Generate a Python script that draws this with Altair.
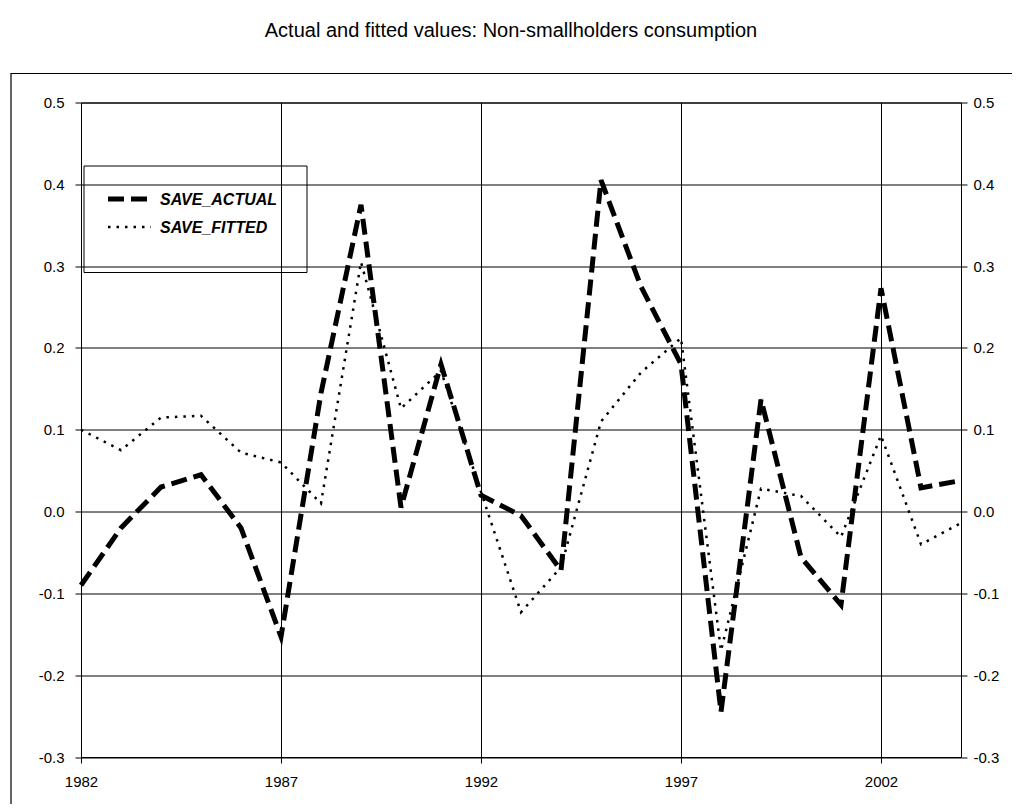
import altair as alt
import pandas as pd

TITLE = "Actual and fitted values: Non-smallholders consumption"
years = list(range(1982, 2005))
save_actual = [-0.09, -0.02, 0.03, 0.045, -0.02, -0.153, 0.145, 0.375, 0.005, 0.18,
               0.02, -0.005, -0.072, 0.405, 0.275, 0.18, -0.245, 0.137, -0.056, -0.114,
               0.273, 0.029, 0.038]
save_fitted = [0.10, 0.075, 0.115, 0.117, 0.072, 0.06, 0.01, 0.305, 0.126, 0.172,
               0.024, -0.123, -0.068, 0.11, 0.17, 0.212, -0.17, 0.028, 0.019, -0.031,
               0.093, -0.04, -0.014]
x_ticks = [1982, 1987, 1992, 1997, 2002]
y_ticks = [-0.3, -0.2, -0.1, 0.0, 0.1, 0.2, 0.3, 0.4, 0.5]
legend_labels = ["SAVE_ACTUAL", "SAVE_FITTED"]

FONT = "Liberation Sans"
DASH_ACTUAL = [16, 7]
DASH_FITTED = [2.5, 6]

df_a = pd.DataFrame({"year": years, "value": save_actual})
df_f = pd.DataFrame({"year": years, "value": save_fitted})
one = pd.DataFrame({"k": [0]})

lab_expr = "datum.value < -0.001 ? '-' + format(-datum.value, '.1f') : format(abs(datum.value), '.1f')"

xscale = alt.Scale(domain=[1982, 2004], nice=False, zero=False)
yscale = alt.Scale(domain=[-0.3, 0.5], nice=False, zero=False)

x_enc = alt.X("year:Q", scale=xscale,
              axis=alt.Axis(values=x_ticks, format="d", title=None, grid=True,
                            labelFlush=False, labelPadding=11, tickSize=6))

y_left = alt.Y("value:Q", scale=yscale,
               axis=alt.Axis(values=y_ticks, labelExpr=lab_expr, title=None, grid=True,
                             orient="left", labelPadding=11, tickSize=6))
y_right = alt.Y("value:Q", scale=yscale,
                axis=alt.Axis(values=y_ticks, labelExpr=lab_expr, title=None, grid=False,
                              orient="right", labelPadding=6, tickSize=6))

frame = alt.Chart(one).mark_rect(fill="transparent", stroke="black", strokeWidth=1.2, clip=False).encode(
    x=alt.value(-70), x2=alt.value(1200), y=alt.value(-29), y2=alt.value(1000))

actual_line = alt.Chart(df_a).mark_line(color="black", strokeWidth=5, strokeDash=DASH_ACTUAL).encode(
    x=x_enc, y=y_left)
fitted_line = alt.Chart(df_f).mark_line(color="black", strokeWidth=2.5, strokeDash=DASH_FITTED).encode(
    x=x_enc, y=alt.Y("value:Q", scale=yscale, axis=None))
right_axis = alt.Chart(df_a).mark_line(opacity=0).encode(
    x=x_enc, y=y_right)

leg_box = alt.Chart(one).mark_rect(fill="transparent", stroke="black", strokeWidth=1).encode(
    x=alt.value(3), x2=alt.value(226), y=alt.value(63.5), y2=alt.value(170))
leg_a = alt.Chart(one).mark_rule(color="black", strokeWidth=5, strokeDash=DASH_ACTUAL).encode(
    x=alt.value(27), x2=alt.value(70), y=alt.value(96.5))
leg_f = alt.Chart(one).mark_rule(color="black", strokeWidth=2.5, strokeDash=DASH_FITTED).encode(
    x=alt.value(27), x2=alt.value(70), y=alt.value(124.5))
leg_txt = alt.Chart(pd.DataFrame({"t": legend_labels, "i": [0, 1]})).mark_text(
    align="left", baseline="middle", fontSize=16, fontWeight="bold", fontStyle="italic", font=FONT,
    color="black").encode(
    text="t:N", x=alt.value(79),
    y=alt.Y("i:Q", scale=alt.Scale(domain=[0, 1], range=[97, 125]), axis=None))

chart = alt.layer(frame, actual_line, fitted_line, right_axis, leg_box, leg_a, leg_f, leg_txt).resolve_axis(
    y="independent").resolve_scale(y="independent").properties(
    width=880, height=654.5,
    padding={"left": 73, "top": 94.5, "right": 51, "bottom": 47},
    autosize=alt.AutoSizeParams(type="none"),
    background="white",
    title=alt.TitleParams(TITLE, fontSize=20, fontWeight="normal", font=FONT, anchor="middle",
                          color="black", offset=32, dx=-10),
).configure_view(stroke="black", strokeWidth=1).configure_axis(
    domainColor="black", tickColor="black", gridColor="black", gridWidth=1, domainWidth=1,
    gridOpacity=1, labelColor="black", labelFont=FONT, labelFontSize=15
)

chart.save("out.html", embed_options={"renderer": "svg", "actions": False})
